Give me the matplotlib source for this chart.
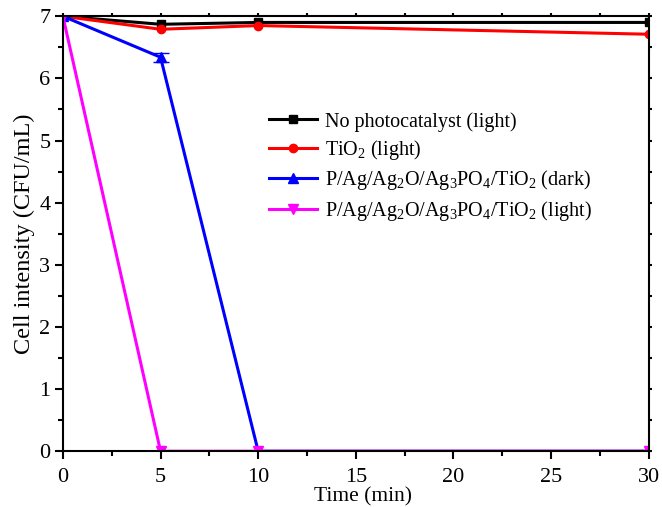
import matplotlib
matplotlib.use("Agg")
import matplotlib.pyplot as plt
from matplotlib.ticker import MultipleLocator

plt.rcParams['font.family'] = ['Liberation Serif', 'DejaVu Serif']
plt.rcParams['mathtext.fontset'] = 'custom'
plt.rcParams['mathtext.rm'] = 'Liberation Serif'
plt.rcParams['mathtext.it'] = 'Liberation Serif:italic'
plt.rcParams['mathtext.default'] = 'rm'

time = [0, 5, 10, 30]
no_cat = [7.0, 6.87, 6.90, 6.90]
tio2 = [7.0, 6.79, 6.85, 6.71]
comp_dark = [7.0, 6.34, 0.0, 0.0]
comp_dark_err = [0.0, 0.07, 0.0, 0.0]
comp_light = [7.0, 0.0, 0.0, 0.0]

labels = ["No photocatalyst (light)", "TiO$_2$ (light)",
          "P/Ag/Ag$_2$O/Ag$_3$PO$_4$/TiO$_2$ (dark)",
          "P/Ag/Ag$_2$O/Ag$_3$PO$_4$/TiO$_2$ (light)"]

fig = plt.figure(figsize=(6.62, 5.07), dpi=100)
ax = fig.add_axes([0.095, 0.110, 0.885, 0.858])

h1, = ax.plot(time, no_cat, color='black', marker='s', ms=6, lw=2.2)
h2, = ax.plot(time, tio2, color='red', marker='o', ms=6, lw=2.2)
ax.errorbar(time, comp_dark, yerr=comp_dark_err, color='blue', lw=0, elinewidth=1.2,
            capsize=6, fmt='none')
h3, = ax.plot(time, comp_dark, color='blue', marker='^', ms=7, lw=2.2)
h4, = ax.plot(time, comp_light, color='magenta', marker='v', ms=7, lw=2.2)

ax.set_xlim(0, 30)
ax.set_ylim(0, 7)
ax.xaxis.set_major_locator(MultipleLocator(5))
ax.xaxis.set_minor_locator(MultipleLocator(2.5))
ax.yaxis.set_major_locator(MultipleLocator(1))
ax.yaxis.set_minor_locator(MultipleLocator(0.5))
ax.tick_params(which='major', direction='out', length=6, width=1.5, labelsize=16,
               pad=3)
ax.tick_params(axis='x', which='major', pad=6)
ax.tick_params(which='minor', direction='out', length=3.5, width=1.5)
ax.tick_params(which='both', top=True, right=True, labeltop=False, labelright=False)
for s in ax.spines.values():
    s.set_linewidth(1.5)

ax.set_xlabel("Time (min)", fontsize=15.5)
ax.xaxis.set_label_coords(0.512, -0.083, transform=ax.transAxes)
ax.xaxis.label.set_va('top')
ax.set_ylabel("Cell intensity (CFU/mL)", fontsize=17.5, labelpad=3)

for t in ax.xaxis.get_major_ticks() + ax.xaxis.get_minor_ticks():
    t.tick2line.set_markersize(2)
for t in ax.yaxis.get_major_ticks() + ax.yaxis.get_minor_ticks():
    t.tick2line.set_markersize(2)

ax.legend([h1, h2, h3, h4], labels, loc='upper left', bbox_to_anchor=(0.321, 0.822),
          frameon=False, fontsize=14.5, handlelength=2.4, labelspacing=0.32,
          handletextpad=0.4)

fig.savefig("out.png", dpi=100)
